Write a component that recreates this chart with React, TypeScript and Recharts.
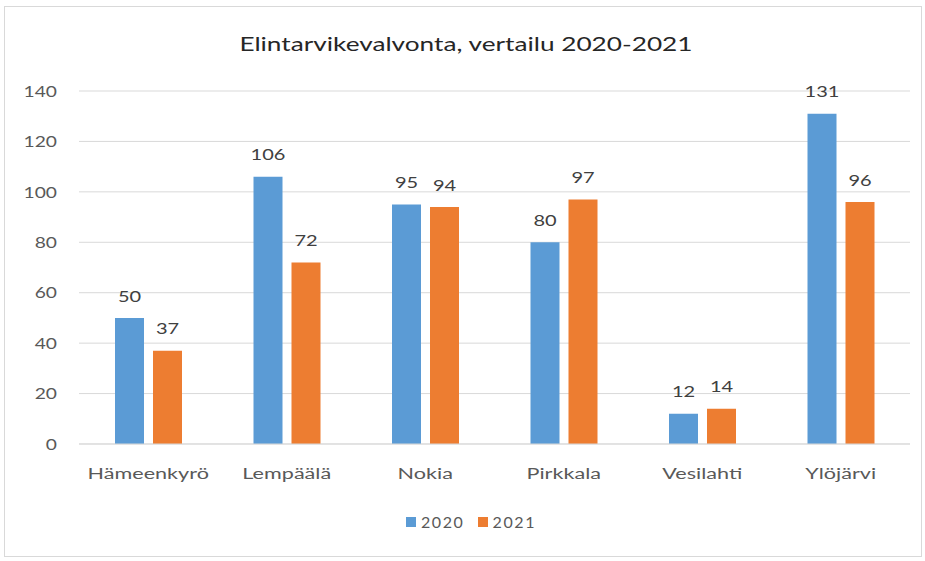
import React from "react";
import { BarChart, Bar, XAxis, YAxis, CartesianGrid, Legend, LabelList } from "recharts";

const categories = ["Hämeenkyrö", "Lempäälä", "Nokia", "Pirkkala", "Vesilahti", "Ylöjärvi"];
const values2020 = [50, 106, 95, 80, 12, 131];
const values2021 = [37, 72, 94, 97, 14, 96];
const yTicks = [0, 20, 40, 60, 80, 100, 120, 140];
const seriesNames = ["2020", "2021"];
const colors = ["#5b9bd5", "#ed7d31"];

const data = categories.map((name, i) => ({ name, y2020: values2020[i], y2021: values2021[i] }));

const FONT = "Lato, 'Open Sans', sans-serif";
const SX = 1.35;

const XTick = (props: any) => {
  const { x, y, payload } = props;
  return (
    <g transform={`translate(${x},${y})`}>
      <text transform={`scale(${SX},1)`} textAnchor="middle" dy="0.71em" fill="#595959" fontSize={16} fontFamily={FONT}>
        {payload.value}
      </text>
    </g>
  );
};

const YTick = (props: any) => {
  const { x, y, payload } = props;
  return (
    <g transform={`translate(${x},${y})`}>
      <text transform={`scale(1.2,1)`} textAnchor="end" dy="0.355em" fill="#595959" fontSize={16} fontFamily={FONT}>
        {payload.value}
      </text>
    </g>
  );
};

const renderLabel = (props: any) => {
  const { x, y, width, value } = props;
  return (
    <g transform={`translate(${Number(x) + Number(width) / 2},${Number(y) - 22})`}>
      <text transform={`scale(1.25,1)`} textAnchor="middle" dy="0.355em" fill="#404040" fontSize={16} fontFamily={FONT}>
        {value}
      </text>
    </g>
  );
};

const renderLegend = () => (
  <div style={{ display: "flex", justifyContent: "center", alignItems: "center", width: 925, paddingLeft: 17, boxSizing: "border-box" }}>
    {seriesNames.map((n, i) => (
      <div key={n} style={{ display: "flex", alignItems: "center", marginRight: i === 0 ? 13 : 0 }}>
        <div style={{ width: 10, height: 10, background: colors[i], marginRight: 5 }} />
        <span style={{ color: "#595959", fontSize: 16, fontFamily: FONT, letterSpacing: 1.6 }}>{n}</span>
      </div>
    ))}
  </div>
);

export default function App() {
  return (
    <div style={{ position: "absolute", left: 0, top: 0, width: 925, height: 561, background: "#fff", fontFamily: FONT }}>
      <div style={{ position: "absolute", left: 4, top: 6, width: 918, height: 551, border: "1px solid #d9d9d9", boxSizing: "border-box" }} />
      <div style={{ position: "absolute", left: 0, top: 31, width: 925, textAlign: "center" }}>
        <span style={{ display: "inline-block", transform: "scaleX(1.31)", fontSize: 20, color: "#262626", marginLeft: 6 }}>
          Elintarvikevalvonta, vertailu 2020-2021
        </span>
      </div>
      <div style={{ position: "absolute", left: 0, top: 0 }}>
        <BarChart width={925} height={561} data={data} margin={{ top: 91, right: 15, left: 0, bottom: 58 }} barGap={9} barSize={29}>
          <CartesianGrid vertical={false} stroke="#d9d9d9" />
          <XAxis dataKey="name" height={40} tickLine={false} axisLine={{ stroke: "#d9d9d9" }} tickMargin={18}
            tick={<XTick />} interval={0} />
          <YAxis domain={[0, 140]} ticks={yTicks} width={79} axisLine={false} tickLine={false} tickMargin={16}
            tick={<YTick />} />
          <Legend verticalAlign="bottom" content={renderLegend} wrapperStyle={{ top: 512, left: 0, width: 925 }} />
          <Bar dataKey="y2020" name={seriesNames[0]} fill={colors[0]} isAnimationActive={false}>
            <LabelList dataKey="y2020" content={renderLabel} />
          </Bar>
          <Bar dataKey="y2021" name={seriesNames[1]} fill={colors[1]} isAnimationActive={false}>
            <LabelList dataKey="y2021" content={renderLabel} />
          </Bar>
        </BarChart>
      </div>
    </div>
  );
}
